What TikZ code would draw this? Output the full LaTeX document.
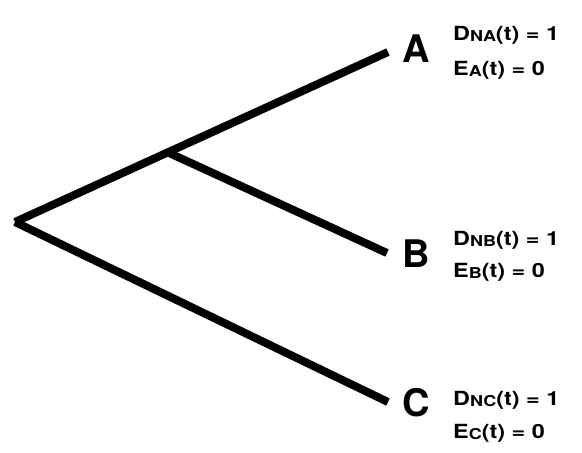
\documentclass[tikz,border=0pt]{standalone}
\usepackage{fontspec}
\setmainfont{TeX Gyre Heros}
\usetikzlibrary{positioning}
\newcommand{\lowtag}[1]{\raisebox{-1pt}{\fontsize{15}{15}\selectfont #1}}
\newcommand{\widetext}[1]{\scalebox{1.2}[1]{#1}}

\begin{document}
\begin{tikzpicture}[
    x=1pt, y=-1pt,
    branch/.style={line width=8pt},
    leaf/.style={inner sep=0pt, anchor=base, font=\bfseries\fontsize{38}{38}\selectfont},
    eqn/.style={inner sep=0pt, anchor=base west, font=\bfseries\fontsize{19.5}{20}\selectfont},
  ]
  \useasboundingbox (0,0) rectangle (582,453);

  % Draw the tree points
  \coordinate (root) at (15,222);
  \coordinate (split) at (167,152);
  \coordinate (end-A) at (388,52);
  \coordinate (end-B) at (387,253);
  \coordinate (end-C) at (388,402);

  % Draw the leaf letters
  \foreach \name / \y in {A/62, B/267, C/416}
  \node[leaf] (leaf-\name) at (416,\y) {\name};

  % Draw the values next to each leaf
  \foreach \name / \y / \z in {A/40/75, B/245/277, C/405/438} {
    \node[eqn] (D-\name) at (453,\y) {\widetext{D\lowtag{N\name}(t) = 1}};
    \node[eqn] (E-\name) at (453,\z) {\widetext{E\lowtag{\name}(t) = 0}};
  }

  % Connect the branches
  \draw[branch] (root) -- (end-A);
  \draw[branch] (split) -- (end-B);
  \draw[branch] (root) -- (end-C);
\end{tikzpicture}
\end{document}
